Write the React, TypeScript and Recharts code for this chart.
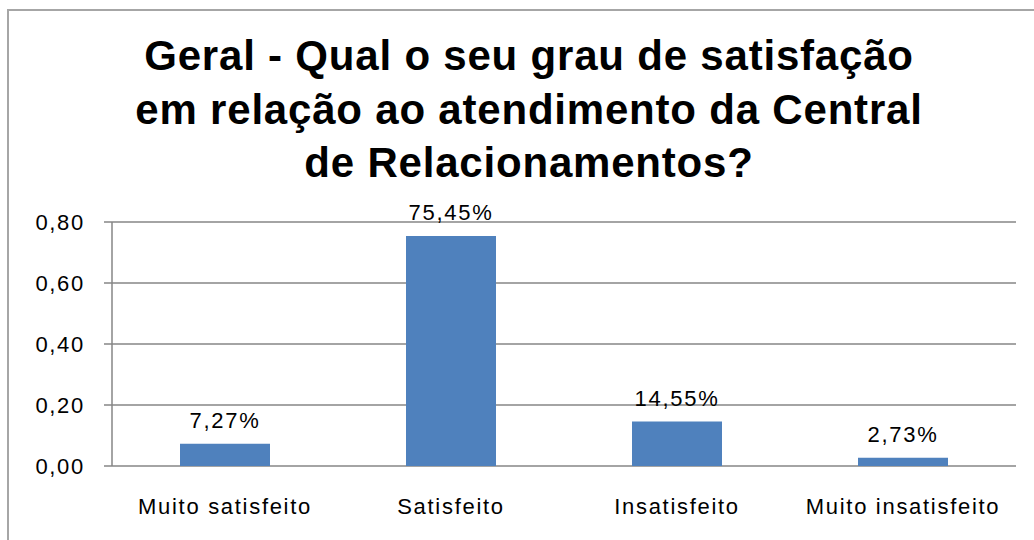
import { BarChart, Bar, XAxis, YAxis, CartesianGrid, LabelList, Customized } from "recharts";

const categories = ["Muito satisfeito", "Satisfeito", "Insatisfeito", "Muito insatisfeito"];
const shares = [0.0727, 0.7545, 0.1455, 0.0273];
const yTicks = [0, 0.2, 0.4, 0.6, 0.8];
const edgeTicks = [0, 1, 2, 3, 4];
const titleLines = [
  "Geral - Qual o seu grau de satisfação",
  "em relação ao atendimento da Central",
  "de Relacionamentos?",
];

const data = categories.map((name, i) => ({ name, value: shares[i] }));

const font = "'Liberation Sans', Arial, sans-serif";
const gray = "#868686";
const labelStyle = { fontFamily: font, fontSize: 22, fill: "#000", letterSpacing: 1.7 };

const fmtAxis = (v: number) => v.toFixed(2).replace(".", ",");
const fmtPct = (v: number) => (v * 100).toFixed(2).replace(".", ",") + "%";

const Title = () => (
  <g>
    {titleLines.map((line, i) => (
      <text
        key={i}
        x={529}
        y={70 + i * 53.5}
        textAnchor="middle"
        fontFamily={font}
        fontSize={42}
        fontWeight="bold"
        letterSpacing={0.8}
        fill="#000"
      >
        {line}
      </text>
    ))}
  </g>
);

export default function App() {
  return (
    <div style={{ position: "absolute", left: 0, top: 0, width: 1034, height: 540, background: "#fff" }}>
      <BarChart
        width={1034}
        height={540}
        data={data}
        margin={{ top: 222, right: 18, bottom: 44, left: 52 }}
      >
        <CartesianGrid vertical={false} stroke={gray} strokeWidth={1.5} />
        <XAxis
          xAxisId="edge"
          type="number"
          domain={[0, 4]}
          ticks={edgeTicks}
          allowDataOverflow
          tick={false}
          tickSize={7}
          height={0}
          stroke={gray}
          strokeWidth={1.5}
        />
        <XAxis
          dataKey="name"
          axisLine={false}
          tickLine={false}
          tickSize={0}
          tickMargin={32}
          height={30}
          interval={0}
          tick={labelStyle}
        />
        <YAxis
          domain={[0, 0.8]}
          ticks={yTicks}
          tickFormatter={fmtAxis}
          width={60}
          tickSize={8}
          tickMargin={19}
          stroke={gray}
          strokeWidth={1.5}
          tick={labelStyle}
        />
        <Bar dataKey="value" fill="#4F81BD" barSize={90} isAnimationActive={false}>
          <LabelList
            dataKey="value"
            position="top"
            offset={16}
            formatter={(v: any) => fmtPct(Number(v))}
            style={labelStyle}
          />
        </Bar>
        <Customized component={Title} />
      </BarChart>
      <div
        style={{
          position: "absolute",
          left: 7,
          top: 9,
          right: 0,
          bottom: 0,
          borderLeft: "2px solid #a6a6a6",
          borderTop: "2px solid #a6a6a6",
          pointerEvents: "none",
        }}
      />
    </div>
  );
}
